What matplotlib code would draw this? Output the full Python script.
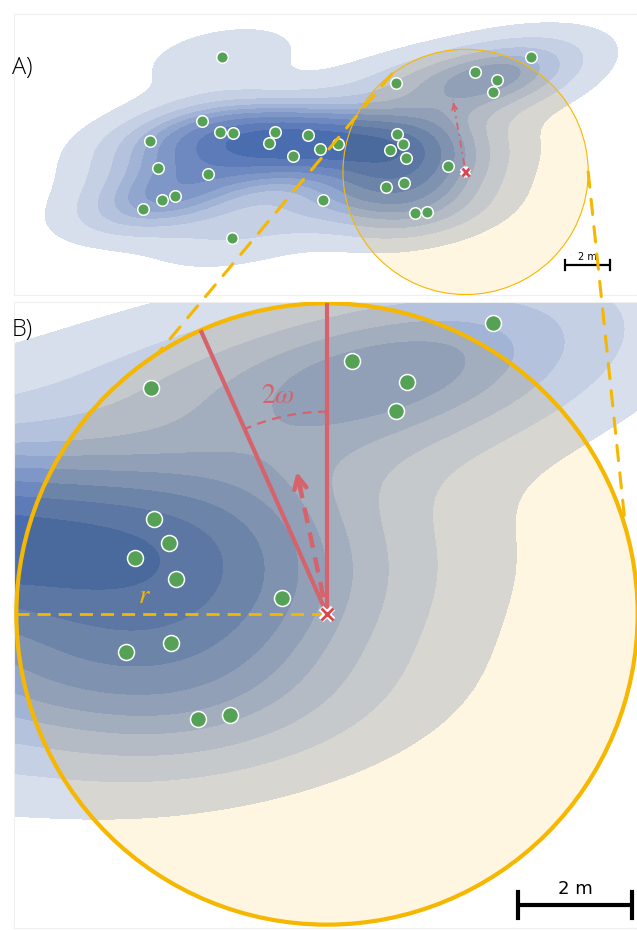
import numpy as np
import matplotlib
matplotlib.use("Agg")
import matplotlib.pyplot as plt
import matplotlib.colors as mcolors
import matplotlib.patheffects as pe
from matplotlib.patches import Circle, Arc, ConnectionPatch

# tree positions in metres
tree_x = [9.23, 22.98, 16.99, 20.50, 21.47, 21.28, 6.04, 8.37, 9.16, 9.75, 11.60,
          11.32, 13.05, 12.41, 13.60, 14.39, 17.04, 17.29, 16.70, 17.42, 19.28,
          6.39, 8.62, 16.55, 17.33, 7.17, 6.56, 5.72, 13.73, 17.81, 18.37, 9.68]
tree_y = [10.59, 10.58, 9.44, 9.90, 9.54, 9.04, 6.86, 7.75, 7.26, 7.21, 7.24,
          6.77, 7.13, 6.18, 6.47, 6.71, 7.14, 6.72, 6.46, 6.09, 5.75,
          5.64, 5.36, 4.81, 4.96, 4.39, 4.21, 3.81, 4.22, 3.63, 3.69, 2.52]

# focal animal, perception radius and field of view
focal_x = 20.07
focal_y = 5.47
radius = 5.45
heading_deg = 102
omega_deg = 12
scale_len = 2  # m

W, H = 637, 930
PX_A = 22.5   # pixels per metre, panel A
PX_B = 57.0   # pixels per metre, panel B

YELLOW = "#f6b700"
RED = "#d6636c"
GREEN = "#55a155"
CREAM = np.array(mcolors.to_rgb("#fff6e2"))
BW_ADJUST = 0.9

plt.rcParams["mathtext.fontset"] = "stix"


def px_box(x0, y0, x1, y1):
    return [x0 / W, 1 - y1 / H, (x1 - x0) / W, (y1 - y0) / H]


# --- kernel density estimate (scott bandwidth, like seaborn/scipy) ---
pts = np.vstack([tree_x, tree_y])
n = pts.shape[1]
kcov = np.cov(pts) * n ** (-1 / 3) * BW_ADJUST ** 2
kinv = np.linalg.inv(kcov)
knorm = 1 / (2 * np.pi * np.sqrt(np.linalg.det(kcov))) / n


def density(X, Y):
    d = np.vstack([X.ravel(), Y.ravel()])
    out = np.zeros(d.shape[1])
    for i in range(n):
        diff = d - pts[:, i:i + 1]
        out += np.exp(-0.5 * np.sum(diff * (kinv @ diff), axis=0))
    return (out * knorm).reshape(X.shape)


bw = np.sqrt(np.diag(kcov))
gx = np.linspace(min(tree_x) - 3 * bw[0], max(tree_x) + 3 * bw[0], 200)
gy = np.linspace(min(tree_y) - 3 * bw[1], max(tree_y) + 3 * bw[1], 200)
GX, GY = np.meshgrid(gx, gy)
dgrid = density(GX, GY)

isoprop = np.linspace(0.05, 1, 10)
sv = np.sort(dgrid.ravel())[::-1]
cum = np.cumsum(sv) / sv.sum()
levels = np.take(sv, np.searchsorted(cum, 1 - isoprop), mode="clip")
levels[-1] = levels[-1] * 1.5

light = np.array(mcolors.to_rgb("#d7deec"))
dark = np.array(mcolors.to_rgb("#4a6db0"))
tt = np.linspace(0, 1, len(levels) - 1)[:, None]
band_colors = light + (dark - light) * tt
band_colors_in = band_colors * CREAM

fig = plt.figure(figsize=(W / 100, H / 100), dpi=100)
axA = fig.add_axes(px_box(14, 14, 637, 295))
axB = fig.add_axes(px_box(14, 302, 637, 928))

axA.set_xlim(0, 623 / PX_A)
axA.set_ylim(0, 281 / PX_A)
axB.set_xlim(focal_x - 313 / PX_B, focal_x + 310 / PX_B)
axB.set_ylim(focal_y - 314 / PX_B, focal_y + 312 / PX_B)


def draw_panel(ax, edge_lw, marker_size, x_size):
    x0, x1 = ax.get_xlim()
    y0, y1 = ax.get_ylim()
    X, Y = np.meshgrid(np.linspace(x0, x1, 420), np.linspace(y0, y1, 300))
    D = density(X, Y)
    ax.contourf(X, Y, D, levels=levels, colors=band_colors, zorder=1)
    disc = Circle((focal_x, focal_y), radius, facecolor=CREAM, edgecolor="none", zorder=2)
    ax.add_patch(disc)
    cs = ax.contourf(X, Y, D, levels=levels, colors=band_colors_in, zorder=3)
    cs.set_clip_path(disc)
    ax.add_patch(Circle((focal_x, focal_y), radius, facecolor="none",
                        edgecolor=YELLOW, lw=edge_lw, zorder=4))
    ax.plot(tree_x, tree_y, "o", ms=marker_size, mfc=GREEN, mec="white",
            mew=1.1, zorder=8)
    ax.plot(focal_x, focal_y, "x", ms=x_size, color="#d9474f", mew=2, zorder=9,
            path_effects=[pe.withStroke(linewidth=4.5, foreground="white")])
    ax.set_xticks([])
    ax.set_yticks([])
    for sp in ax.spines.values():
        sp.set_color("#efefef")
        sp.set_linewidth(0.8)


def scalebar(ax, xr, yb, tick, lw, fs, tdy):
    ax.plot([xr - scale_len, xr], [yb, yb], color="black", lw=lw, solid_capstyle="butt", zorder=10)
    for xe in (xr - scale_len, xr):
        ax.plot([xe, xe], [yb - tick, yb + tick], color="black", lw=lw, zorder=10)
    ax.text(xr - scale_len / 2, yb + tdy, "2 m", ha="center", va="bottom",
            fontsize=fs, family="DejaVu Sans", zorder=10)


def unit(deg):
    return np.cos(np.radians(deg)), np.sin(np.radians(deg))


# ---- panel A ----
draw_panel(axA, 0.8, 8.3, 5.5)
ux, uy = unit(heading_deg - 2)
tipA = (focal_x + 3.25 * ux, focal_y + 3.25 * uy)
axA.plot([focal_x + 0.3 * ux, tipA[0]], [focal_y + 0.3 * uy, tipA[1]], color=RED, lw=1.3,
         ls=(0, (4, 2.5, 1, 2.5)), zorder=6)
axA.annotate("", xy=tipA, xytext=(tipA[0] - 0.3 * ux, tipA[1] - 0.3 * uy),
             arrowprops=dict(arrowstyle="->", color=RED, lw=1.3, mutation_scale=9), zorder=6)
scalebar(axA, 596 / PX_A, 30 / PX_A, 0.22, 1.6, 7, 0.12)

# ---- panel B ----
draw_panel(axB, 3.0, 11.5, 9)
for ang in (90, 90 + 2 * omega_deg):
    cx, cy = unit(ang)
    axB.plot([focal_x, focal_x + radius * cx], [focal_y, focal_y + radius * cy],
             color=RED, lw=3, zorder=6, solid_capstyle="butt")
axB.add_patch(Arc((focal_x, focal_y), 7.1, 7.1, theta1=90, theta2=90 + 2 * omega_deg,
                  color=RED, lw=1.6, ls=(0, (4, 3)), zorder=6))
axB.text(focal_x - 0.86, focal_y + 3.84, r"$2\omega$", color=RED, fontsize=20,
         ha="center", va="center", zorder=7)
ux, uy = unit(heading_deg)
tipB = (focal_x + 2.6 * ux, focal_y + 2.6 * uy)
axB.plot([focal_x + 0.3 * ux, tipB[0] - 0.1 * ux], [focal_y + 0.3 * uy, tipB[1] - 0.1 * uy],
         color=RED, lw=3.2, ls=(0, (3.5, 2.2)), zorder=6)
axB.annotate("", xy=tipB, xytext=(tipB[0] - 0.4 * ux, tipB[1] - 0.4 * uy),
             arrowprops=dict(arrowstyle="->", color=RED, lw=3.2, mutation_scale=22), zorder=6)
axB.plot([focal_x - radius, focal_x], [focal_y, focal_y], color=YELLOW, lw=2,
         ls=(0, (4.7, 2.9)), zorder=5)
axB.text(focal_x - 3.21, focal_y + 0.32, r"$r$", color=YELLOW, fontsize=19,
         ha="center", va="center", zorder=7)
scalebar(axB, focal_x + 305 / PX_B, focal_y - 291 / PX_B, 0.22, 3.0, 13, 0.12)

# dashed lines joining the two discs
for angA, angB in ((127, 123), (0, 16)):
    ax_, ay_ = unit(angA)
    bx_, by_ = unit(angB)
    con = ConnectionPatch(xyA=(focal_x + radius * ax_, focal_y + radius * ay_), coordsA=axA.transData,
                          xyB=(focal_x + radius * bx_, focal_y + radius * by_), coordsB=axB.transData,
                          color=YELLOW, lw=2.2, ls=(0, (5, 4)), zorder=20)
    fig.add_artist(con)

fig.text(12 / W, 1 - 68 / H, "A)", fontsize=17, family="Open Sans", weight="light",
         va="center", ha="left")
fig.text(12 / W, 1 - 330 / H, "B)", fontsize=17, family="Open Sans", weight="light",
         va="center", ha="left")

fig.savefig("out.png", dpi=100)
